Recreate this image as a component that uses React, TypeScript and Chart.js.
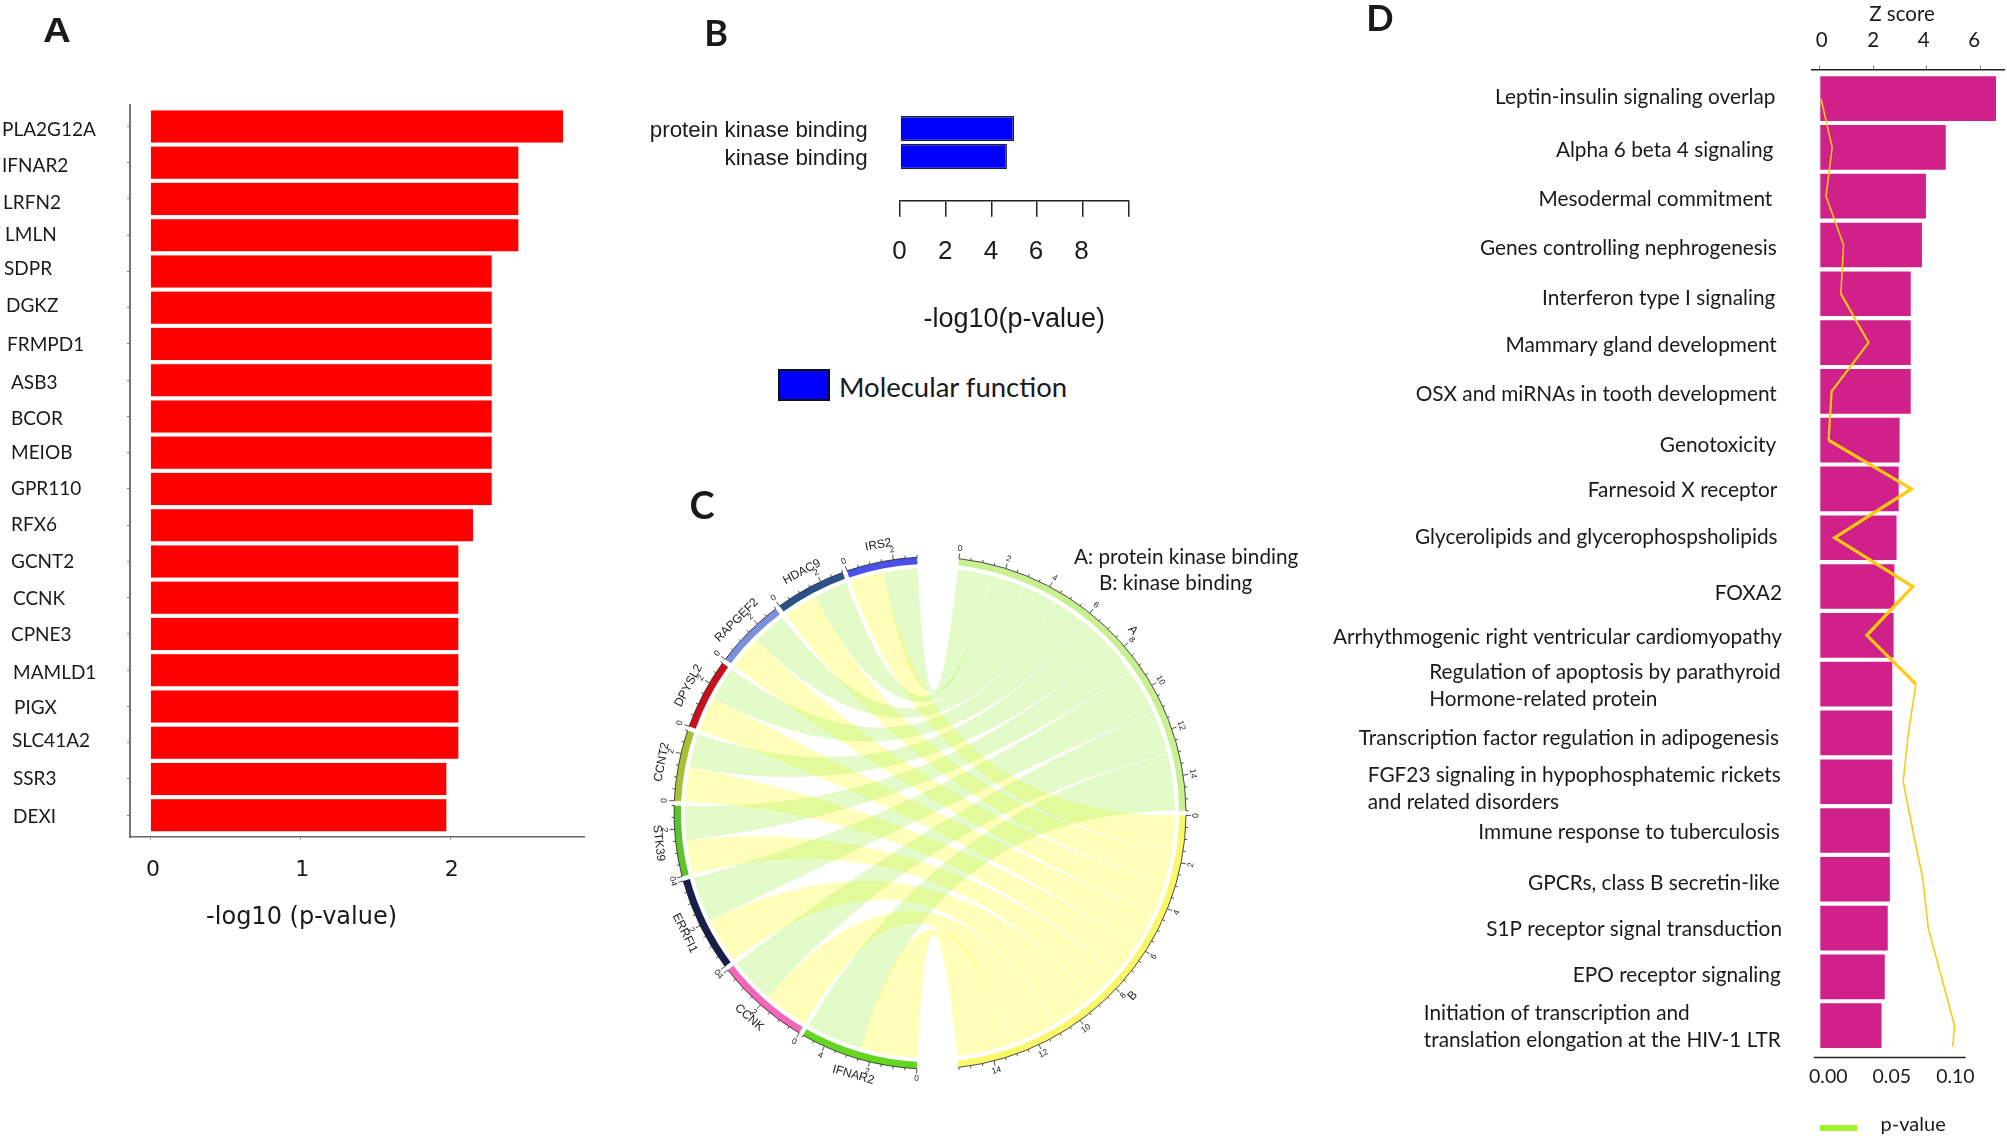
import { useEffect, useRef } from "react";
import { Chart, registerables } from "chart.js";
Chart.register(...registerables);

/* ---------- data ---------- */
const genes = ["PLA2G12A","IFNAR2","LRFN2","LMLN","SDPR","DGKZ","FRMPD1","ASB3","BCOR","MEIOB","GPR110","RFX6","GCNT2","CCNK","CPNE3","MAMLD1","PIGX","SLC41A2","SSR3","DEXI"];
const geneLogP = [2.755,2.457,2.457,2.457,2.28,2.28,2.28,2.28,2.28,2.28,2.28,2.155,2.057,2.057,2.057,2.057,2.057,2.057,1.977,1.977];
const geneTicks = [0,1,2];
const geneLabelIndent = [2,2,3,5,4,6,7,11,11,11,11,11,11,13,11,13,14,12,13,13];
const geneLabelShift = [3,3,4,0,-3,-2,1,3,2,0,0,0,0,1,1,3,1,-2,0,2];

const functions = ["protein kinase binding","kinase binding"];
const functionLogP = [4.99,4.68];
const functionTicks = [0,2,4,6,8,10];

const chordGenes = ["IFNAR2","CCNK","ERRFI1","STK39","CCNT2","DPYSL2","RAPGEF2","HDAC9","IRS2"];
const chordToA = [2.5,2,2,1.5,1.5,1.5,1.5,1.5,1.5];
const chordToB = [2.5,2,2,1.5,1.5,1.5,1.5,1.5,1.5];
const chordGeneColors = ["#62d620","#f466b8","#161f4a","#5cc32c","#a8c034","#c8101c","#7b8fdc","#2a5288","#4a50e8"];
const chordTerms = ["A","B"];
const chordTermColors = ["#c8f090","#f8f86a"];
const ribbonColors = ["rgba(170,240,90,0.33)","rgba(255,255,60,0.36)"];

const pathways = [
  "Leptin-insulin signaling overlap","Alpha 6 beta 4 signaling","Mesodermal commitment","Genes controlling nephrogenesis",
  "Interferon type I signaling","Mammary gland development","OSX and miRNAs in tooth development","Genotoxicity",
  "Farnesoid X receptor","Glycerolipids and glycerophospsholipids","FOXA2","Arrhythmogenic right ventricular cardiomyopathy",
  ["Regulation of apoptosis by parathyroid","Hormone-related protein"],"Transcription factor regulation in adipogenesis",
  ["FGF23 signaling in hypophosphatemic rickets","and related disorders"],"Immune response to tuberculosis",
  "GPCRs, class B secretin-like","S1P receptor signal transduction","EPO receptor signaling",
  ["Initiation of transcription and","translation elongation at the HIV-1 LTR"],
];
const zScores = [6.59,4.71,3.97,3.82,3.40,3.40,3.40,2.985,2.95,2.87,2.79,2.76,2.71,2.71,2.71,2.62,2.62,2.54,2.43,2.31];
const pValues = [0.0005,0.0089,0.0043,0.0174,0.0154,0.0361,0.0085,0.0062,0.0682,0.0108,0.0692,0.0348,0.0715,0.0659,0.062,0.0692,0.0768,0.0807,0.0906,0.1004,0.0991];
const pValueRows = [0,1,2,3,4,5,6,7,8,9,10,11,12,13,14,15,16,17,18,19,19.43];
const zTicks = [0,2,4,6];
const pTicks = [0,0.05,0.1];

/* ---------- layout tweaks for tick labels ---------- */
const pathwayRightShift = [-2.9,-5,-6,-1.5,-3,-1.5,-1.5,-2,-1,-0.7,3.7,3.7,2.4,0.7,2.4,1.5,1.5,3.7,2.4,2.4];
const pathwayRowShift = [-1,2.7,3.6,3.8,4.4,2.6,3.2,5.6,1.7,-0.5,6.5,1.8,1.6,5.8,6.8,2.1,3.6,0.8,-1.2,0.8];

const SANS = "Lato, 'Liberation Sans', sans-serif";
const NARROW = "'Liberation Sans Narrow', 'Liberation Sans', sans-serif";
const ARIAL = "'Liberation Sans', Arial, sans-serif";
const INK = "#1a1a1a";

type Nudge = { dx?: number[]; dy?: number[]; leftBlock?: boolean };
function nudgePlugin(map: Record<string, Nudge>) {
  return {
    id: "tickNudge",
    beforeDraw(chart: any) {
      for (const id of Object.keys(map)) {
        const scale = chart.scales[id];
        const cfg = map[id];
        scale.getLabelItems().forEach((item: any, i: number) => {
          if (item.__done) return;
          item.__done = true;
          const tr = item.options.translation;
          tr[0] += cfg.dx?.[i] ?? 0;
          tr[1] += cfg.dy?.[i] ?? 0;
          if (cfg.leftBlock && Array.isArray(item.label)) {
            chart.ctx.save();
            chart.ctx.font = item.font.string;
            const w = Math.max(...item.label.map((s: string) => chart.ctx.measureText(s).width));
            chart.ctx.restore();
            tr[0] -= w;
            item.options.textAlign = "left";
          }
        });
      }
    },
  };
}
const fixTicks = (values: number[]) => (s: any) => { s.ticks = values.map((value) => ({ value })); };
const base = {
  animation: false as const, responsive: false, events: [] as string[],
  plugins: { legend: { display: false }, tooltip: { enabled: false } },
};

/* ---------- panel A ---------- */
function configA() {
  return {
    type: "bar",
    data: { datasets: [{ data: geneLogP.map((x, y) => ({ x, y })), backgroundColor: "#ff0000", borderColor: "#ffc4c4", borderWidth: 0.6, barPercentage: 0.916, categoryPercentage: 1 }] },
    options: {
      ...base, indexAxis: "y",
      layout: { padding: { top: 105, right: 36, left: 0, bottom: 0 } },
      scales: {
        y: {
          type: "linear", offset: false, reverse: true, min: -0.59, max: 19.6,
          afterBuildTicks: fixTicks(genes.map((_, i) => i)),
          afterFit: (s: any) => { s.width = 130; },
          grid: { offset: false, drawOnChartArea: false, tickLength: 3, color: "#888" },
          border: { display: true, color: "#777", width: 2 },
          ticks: { autoSkip: false, crossAlign: "far", color: INK, font: { family: SANS, size: 19 }, callback: (v: number) => genes[v] },
        },
        x: {
          type: "linear", min: -0.135, max: 2.891,
          afterBuildTicks: fixTicks(geneTicks),
          afterFit: (s: any) => { s.height = 123; },
          grid: { drawOnChartArea: false, tickLength: 3, color: "#aaa" },
          border: { display: true, color: "#666", width: 1.5 },
          ticks: { color: INK, padding: 17, maxRotation: 0, font: { family: "'DejaVu Sans'", size: 22 } },
        },
      },
    },
    plugins: [nudgePlugin({ y: { dx: geneLabelIndent, dy: geneLabelShift }, x: { dx: [2.7, 2, 1.4] } })],
  };
}

/* ---------- panel B ---------- */
function configB() {
  return {
    type: "bar",
    data: { datasets: [{ data: functionLogP.map((x, y) => ({ x, y })), backgroundColor: "#0000ff", borderColor: "#222", borderWidth: 1.5, barPercentage: 0.907, categoryPercentage: 1 }] },
    options: {
      ...base, indexAxis: "y",
      layout: { padding: { top: 72, right: 31.5, left: 0, bottom: 0 } },
      scales: {
        y: {
          type: "linear", offset: false, reverse: true, min: -0.595, max: 2.584,
          afterBuildTicks: fixTicks([0, 1]),
          afterFit: (s: any) => { s.width = 300; },
          grid: { offset: false, display: false, drawTicks: false }, border: { display: false },
          ticks: { autoSkip: false, padding: 32.4, color: INK, font: { family: NARROW, size: 22.4 }, callback: (v: number) => functions[v] },
        },
        x: {
          type: "linear", min: 0, max: 10,
          afterBuildTicks: fixTicks(functionTicks),
          afterFit: (s: any) => { s.height = 139.3; },
          grid: { drawOnChartArea: false, tickLength: 16, color: "#222", lineWidth: 1.5 },
          border: { display: true, color: "#222", width: 1.5 },
          ticks: { padding: 20, maxRotation: 0, color: INK, font: { family: NARROW, size: 26 }, callback: (v: number) => (v === 10 ? "" : String(v)) },
          title: { display: true, text: "-log10(p-value)", color: INK, padding: { bottom: 7 }, font: { family: NARROW, size: 27, lineHeight: 1 } },
        },
      },
    },
    plugins: [nudgePlugin({ y: { dy: [2.5, 2] }, x: { dx: [-0.5, -0.5, -0.5, -1, -1.4, 0] } })],
  };
}

/* ---------- panel C ---------- */
const RING_GAP = 0.19;
const END_GAP = 1.75;
function chordSlices() {
  const sizes: number[] = [], colors: string[] = [];
  const push = (v: number, c: string) => { sizes.push(v); colors.push(c); };
  const sum = (a: number[]) => a.reduce((p, c) => p + c, 0);
  push(sum(chordToA), chordTermColors[0]); push(RING_GAP, "rgba(0,0,0,0)");
  push(sum(chordToB), chordTermColors[1]); push(END_GAP, "rgba(0,0,0,0)");
  chordGenes.forEach((_, i) => {
    push(chordToA[i] + chordToB[i], chordGeneColors[i]);
    push(i === chordGenes.length - 1 ? END_GAP : RING_GAP, "rgba(0,0,0,0)");
  });
  return { sizes, colors };
}
const chordPlugin = {
  id: "chord",
  afterDatasetsDraw(chart: any) {
    const { ctx } = chart;
    const arcs = chart.getDatasetMeta(0).data;
    const cx = arcs[0].x, cy = arcs[0].y, R = arcs[0].outerRadius;
    const rib = R - 11;
    const pt = (a: number, r: number) => [cx + r * Math.cos(a), cy + r * Math.sin(a)];
    const termArcs = [arcs[0], arcs[2]];
    const geneArcs = chordGenes.map((_, i) => arcs[4 + i * 2]);
    const unitA = (termArcs[0].endAngle - termArcs[0].startAngle) / chordToA.reduce((p, c) => p + c, 0);
    const ribbon = (a1: number, a2: number, t1: number, t2: number, color: string) => {
      ctx.beginPath();
      ctx.moveTo(...pt(a1, rib));
      ctx.arc(cx, cy, rib, a1, a2);
      ctx.quadraticCurveTo(cx, cy, ...pt(t1, rib));
      ctx.arc(cx, cy, rib, t1, t2);
      ctx.quadraticCurveTo(cx, cy, ...pt(a1, rib));
      ctx.closePath();
      ctx.fillStyle = color;
      ctx.fill();
    };
    let tA = termArcs[0].startAngle, tB = termArcs[1].startAngle;
    const order = chordGenes.map((_, i) => chordGenes.length - 1 - i);
    for (const g of order) {
      const s = geneArcs[g].startAngle;
      const mid = s + chordToB[g] * unitA;
      const e = geneArcs[g].endAngle;
      const wa = chordToA[g] * unitA, wb = chordToB[g] * unitA;
      ribbon(mid, e, tA + 0.001, tA + wa - 0.001, ribbonColors[0]);
      ribbon(s, mid, tB + 0.001, tB + wb - 0.001, ribbonColors[1]);
      tA += wa; tB += wb;
    }
    const orient = (a: number) => {
      const deg = ((a + Math.PI / 2) * 180) / Math.PI;
      const d = ((deg % 360) + 360) % 360;
      return d > 90 && d < 270 ? a + Math.PI / 2 + Math.PI : a + Math.PI / 2;
    };
    const drawAxis = (arc: any, name: string, units: number) => {
      ctx.strokeStyle = "#222"; ctx.lineWidth = 0.8;
      ctx.beginPath(); ctx.arc(cx, cy, R, arc.startAngle, arc.endAngle); ctx.stroke();
      for (let k = 0; k <= units * 2; k++) {
        const a = arc.startAngle + (k / 2) * unitA;
        if (a > arc.endAngle + 0.001) break;
        const major = k % 4 === 0;
        const [x0, y0] = pt(a, R), [x1, y1] = pt(a, R + (major ? 5 : 2.5));
        ctx.beginPath(); ctx.moveTo(x0, y0); ctx.lineTo(x1, y1); ctx.stroke();
        if (major) {
          const [lx, ly] = pt(a, R + 10);
          ctx.save(); ctx.translate(lx, ly); ctx.rotate(orient(a));
          ctx.font = `8.5px ${ARIAL}`; ctx.fillStyle = "#222"; ctx.textAlign = "center"; ctx.textBaseline = "middle";
          ctx.fillText(String(k / 2), 0, 0); ctx.restore();
        }
      }
      const m = (arc.startAngle + arc.endAngle) / 2;
      const [nx, ny] = pt(m, R + 17);
      ctx.save(); ctx.translate(nx, ny); ctx.rotate(orient(m));
      ctx.font = `12px ${ARIAL}`; ctx.fillStyle = "#222"; ctx.textAlign = "center"; ctx.textBaseline = "middle";
      ctx.fillText(name, 0, 0); ctx.restore();
    };
    termArcs.forEach((arc: any, i: number) => drawAxis(arc, chordTerms[i], 15.5));
    geneArcs.forEach((arc: any, i: number) => drawAxis(arc, chordGenes[i], chordToA[i] + chordToB[i]));
  },
};
function configC() {
  const { sizes, colors } = chordSlices();
  return {
    type: "doughnut",
    data: { labels: sizes.map((_, i) => String(i)), datasets: [{ data: sizes, backgroundColor: colors, borderWidth: 0 }] },
    options: { ...base, rotation: 6.5, radius: 256, cutout: "97.3%", layout: { padding: 0 } },
    plugins: [chordPlugin],
  };
}

/* ---------- panel D ---------- */
const P_AXIS_FROM = -0.0049;
const P_AXIS_TO = 0.1087;
const pAxisLine = {
  id: "pAxisLine",
  afterDraw(chart: any) {
    const s = chart.scales.xP, ctx = chart.ctx;
    ctx.save(); ctx.strokeStyle = "#222"; ctx.lineWidth = 1.5;
    ctx.beginPath(); ctx.moveTo(s.getPixelForValue(P_AXIS_FROM), s.top); ctx.lineTo(s.getPixelForValue(P_AXIS_TO), s.top); ctx.stroke();
    ctx.restore();
  },
};
function configD() {
  return {
    type: "bar",
    data: {
      datasets: [
        { type: "bar", xAxisID: "xZ", yAxisID: "y", order: 2, data: zScores.map((x, y) => ({ x, y })), backgroundColor: "#d0218a", barPercentage: 0.915, categoryPercentage: 1 },
        {
          type: "line", indexAxis: "y", xAxisID: "xP", yAxisID: "y", order: 1, pointRadius: 0, tension: 0, fill: false,
          data: pValues.map((x, i) => ({ x, y: pValueRows[i] })), borderColor: "#ffc90e", borderWidth: 1.6,
          segment: { borderWidth: (c: any) => (c.p0DataIndex >= 7 && c.p0DataIndex < 12 ? 3.2 : c.p0DataIndex >= 4 && c.p0DataIndex < 7 ? 2.2 : 1.6) },
        },
      ],
    },
    options: {
      ...base, indexAxis: "y",
      layout: { padding: { right: 2.5 } },
      scales: {
        y: {
          type: "linear", offset: false, reverse: true, min: -0.6, max: 19.65, position: "left",
          afterBuildTicks: fixTicks(pathways.map((_, i) => i)),
          afterFit: (s: any) => { s.width = 511.9; },
          grid: { offset: false, display: false, drawTicks: false }, border: { display: false },
          ticks: { autoSkip: false, padding: 33.6, color: INK, font: { family: SANS, size: 20.8, lineHeight: 1.29 }, callback: (v: number) => pathways[v] },
        },
        xZ: {
          type: "linear", axis: "x", position: "top", min: -0.295, max: 6.907,
          afterBuildTicks: fixTicks(zTicks),
          afterFit: (s: any) => { s.height = 69.3; },
          grid: { drawOnChartArea: false, tickLength: 4, color: "#888" },
          border: { display: true, color: "#222", width: 1.5 },
          ticks: { padding: 13, maxRotation: 0, color: INK, font: { family: SANS, size: 20.5 } },
        },
        xP: {
          type: "linear", axis: "x", position: "bottom", min: -0.00627, max: 0.13776,
          afterBuildTicks: fixTicks(pTicks),
          afterFit: (s: any) => { s.height = 78.6; },
          grid: { display: false, drawTicks: false }, border: { display: false },
          ticks: { padding: 8, maxRotation: 0, color: INK, font: { family: SANS, size: 19.5 }, callback: (v: number) => v.toFixed(2) },
        },
      },
    },
    plugins: [
      nudgePlugin({ y: { dx: pathwayRightShift, dy: pathwayRowShift, leftBlock: true }, xZ: { dx: [2, 0, -3, -6] }, xP: { dx: [8, 4.6, 1.4] } }),
      pAxisLine,
    ],
  };
}

/* ---------- page ---------- */
function Panel({ config, left, top, width, height }: any) {
  const ref = useRef<HTMLCanvasElement>(null);
  useEffect(() => {
    const chart = new Chart(ref.current as any, config());
    return () => chart.destroy();
  }, []);
  return <canvas ref={ref} width={width} height={height} style={{ position: "absolute", left, top, width, height }} />;
}
function Label({ x, y, size, font = SANS, weight = 400, align = "center", sx = 1, children }: any) {
  const tx = align === "center" ? "-50%" : "0";
  return (
    <div style={{ position: "absolute", left: x, top: y, whiteSpace: "nowrap", color: INK, fontFamily: font, fontSize: size, fontWeight: weight, lineHeight: 1, transform: `translate(${tx},-50%) scaleX(${sx})`, transformOrigin: align === "center" ? "center" : "left" }}>
      {children}
    </div>
  );
}

export default function App() {
  return (
    <div style={{ position: "fixed", left: 0, top: 0, width: 2007, height: 1136, background: "#fff", overflow: "hidden" }}>
      <Panel config={configA} left={0} top={0} width={620} height={960} />
      <Panel config={configB} left={600} top={40} width={560} height={300} />
      <Panel config={configC} left={630} top={513} width={600} height={600} />
      <Panel config={configD} left={1300} top={0} width={707} height={1136} />
      <Label x={57} y={29} size={35} font={ARIAL} weight={700} sx={1.1}>A</Label>
      <Label x={716} y={32} size={36} weight={700}>B</Label>
      <Label x={702} y={504} size={38} weight={700}>C</Label>
      <Label x={1380} y={17} size={36} weight={700}>D</Label>
      <Label x={301.6} y={916} size={24} font="'DejaVu Sans'">-log10 (p-value)</Label>
      <div style={{ position: "absolute", left: 778, top: 369, width: 48, height: 28, background: "#0000ff", border: "2px solid #111" }} />
      <Label x={839} y={387} size={27.5} align="left">Molecular function</Label>
      <Label x={1074} y={556} size={20.7} align="left">A: protein kinase binding</Label>
      <Label x={1099} y={582} size={20.7} align="left">B: kinase binding</Label>
      <Label x={1902} y={13} size={20.5}>Z score</Label>
      <div style={{ position: "absolute", left: 1820, top: 1125, width: 37, height: 6, background: "#a4f02c" }} />
      <Label x={1880.6} y={1123} size={20} align="left">p-value</Label>
    </div>
  );
}
